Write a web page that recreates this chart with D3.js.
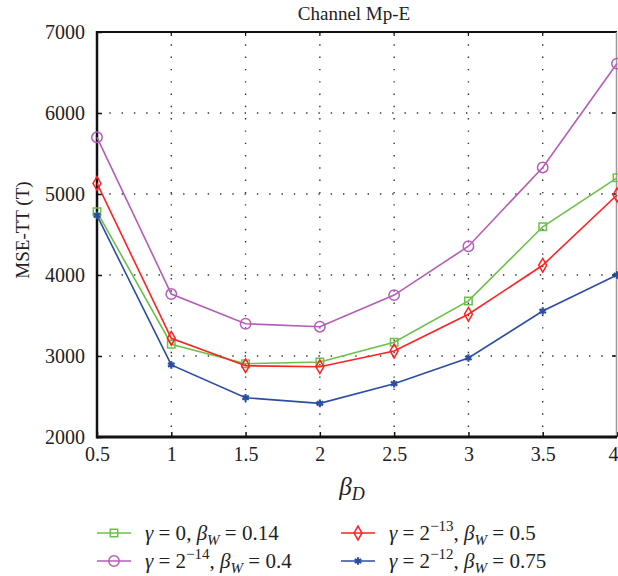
<!DOCTYPE html>
<html>
<head>
<meta charset="utf-8">
<script src="https://cdn.jsdelivr.net/npm/d3@7"></script>
<style>
  body { margin: 0; background: #fff; }
</style>
</head>
<body>
<div id="chart"></div>
<script>
// beta_D values on the x axis
const betaD = [0.5, 1, 1.5, 2, 2.5, 3, 3.5, 4];

// MSE-TT values
const gamma0 = [4780, 3145, 2905, 2925, 3170, 3680, 4595, 5200];
const gamma14 = [5700, 3765, 3398, 3362, 3752, 4355, 5328, 6610];
const gamma13 = [5130, 3218, 2880, 2868, 3062, 3515, 4120, 4988];
const gamma12 = [4735, 2890, 2485, 2415, 2658, 2975, 3555, 4000];

const xTicks = [0.5, 1, 1.5, 2, 2.5, 3, 3.5, 4];
const yTicks = [2000, 3000, 4000, 5000, 6000, 7000];

const FONT = "Liberation Serif, Times New Roman, Times, DejaVu Serif, serif";
const width = 618, height = 576;
const margin = {left: 97, right: 1, top: 32, bottom: 139};

const svg = d3.select("#chart").append("svg")
  .attr("width", width)
  .attr("height", height)
  .attr("font-family", FONT);

let x = d3.scaleLinear().domain([0.5, 4]).range([margin.left, width - margin.right]);
let y = d3.scaleLinear().domain([2000, 7000]).range([height - margin.bottom, margin.top]);

// dotted grid
let grid = svg.append("g").attr("class", "grid");
grid.selectAll(".vg").data(xTicks.slice(1, -1)).enter().append("line")
  .attr("x1", d => x(d)).attr("x2", d => x(d))
  .attr("y1", y(7000)).attr("y2", y(2000))
  .attr("stroke", "#333").attr("stroke-width", 1.4)
  .attr("stroke-dasharray", "1.4 10.9");
grid.selectAll(".hg").data(yTicks.slice(1, -1)).enter().append("line")
  .attr("y1", d => y(d)).attr("y2", d => y(d))
  .attr("x1", x(0.5)).attr("x2", x(4))
  .attr("stroke", "#333").attr("stroke-width", 1.4)
  .attr("stroke-dasharray", "1.4 10.9");

// axes
let xAxis = svg.append("g")
  .attr("transform", `translate(0,${y(2000)})`)
  .call(d3.axisBottom(x).tickValues(xTicks).tickSizeInner(-5).tickSizeOuter(0).tickPadding(10)
    .tickFormat(d3.format("")));
let yAxis = svg.append("g")
  .attr("transform", `translate(${x(0.5)},0)`)
  .call(d3.axisLeft(y).tickValues(yTicks).tickSizeInner(-5).tickSizeOuter(0).tickPadding(12)
    .tickFormat(d3.format("d")));

[xAxis, yAxis].forEach(a => {
  a.attr("font-family", FONT).attr("font-size", 20);
  a.select(".domain").remove();
  a.selectAll("line").attr("stroke", "#111").attr("stroke-width", 1.5);
  a.selectAll("text").attr("fill", "#222");
});
xAxis.selectAll("text").attr("dy", "0.71em");
yAxis.selectAll("text").attr("dy", "0.33em");
// last label is clipped in the original; nudge it inside the page
xAxis.selectAll("text").filter(d => d === 4).attr("text-anchor", "end").attr("dx", 1);

// ticks on the top and right sides
svg.append("g").selectAll("line").data(xTicks.slice(1, -1)).enter().append("line")
  .attr("x1", d => x(d)).attr("x2", d => x(d))
  .attr("y1", y(7000)).attr("y2", y(7000) + 4)
  .attr("stroke", "#111").attr("stroke-width", 1.2);
svg.append("g").selectAll("line").data(yTicks.slice(1, -1)).enter().append("line")
  .attr("x1", x(4) - 5).attr("x2", x(4))
  .attr("y1", d => y(d)).attr("y2", d => y(d))
  .attr("stroke", "#111").attr("stroke-width", 1.5);

// frame
svg.append("line").attr("x1", x(0.5)).attr("x2", x(4)).attr("y1", y(7000)).attr("y2", y(7000))
  .attr("stroke", "#111").attr("stroke-width", 2);
svg.append("line").attr("x1", x(4) - 0.5).attr("x2", x(4) - 0.5).attr("y1", y(7000)).attr("y2", y(2000))
  .attr("stroke", "#999").attr("stroke-width", 1.5);
svg.append("line").attr("x1", x(0.5)).attr("x2", x(0.5)).attr("y1", y(7000) - 1).attr("y2", y(2000) + 1.5)
  .attr("stroke", "#111").attr("stroke-width", 2.5);
svg.append("line").attr("x1", x(0.5)).attr("x2", x(4)).attr("y1", y(2000)).attr("y2", y(2000))
  .attr("stroke", "#111").attr("stroke-width", 3);

// series
const series = [
  {name: "g0", values: gamma0, color: "#6cc04a", symbol: d3.symbolSquare, size: 55},
  {name: "g14", values: gamma14, color: "#b65cb8", symbol: d3.symbolCircle, size: 85},
  {name: "g13", values: gamma13, color: "#ff2222", symbol: d3.symbolDiamond, size: 55},
  {name: "g12", values: gamma12, color: "#2b4ea3", symbol: d3.symbolAsterisk, size: 40}
];

let line = d3.line().x(d => x(d[0])).y(d => y(d[1]));

let drawOrder = [series[1], series[0], series[2], series[3]];
drawOrder.forEach(s => {
  let pts = betaD.map((b, i) => [b, s.values[i]]);
  svg.append("path").datum(pts)
    .attr("d", line)
    .attr("fill", "none")
    .attr("stroke", s.color)
    .attr("stroke-width", 1.6);
  svg.append("g").selectAll("path").data(pts).enter().append("path")
    .attr("transform", d => `translate(${x(d[0])},${y(d[1])})`)
    .attr("d", d3.symbol().type(s.symbol).size(s.size))
    .attr("fill", "none")
    .attr("stroke", s.color)
    .attr("stroke-width", s.symbol === d3.symbolAsterisk ? 2.2 : 1.5);
});

// title and axis labels
svg.append("text").attr("x", 354).attr("y", 20)
  .attr("text-anchor", "middle").attr("font-size", 19).attr("fill", "#222")
  .text("Channel Mp-E");

svg.append("text")
  .attr("transform", "translate(29,230) rotate(-90)")
  .attr("text-anchor", "middle").attr("font-size", 19).attr("fill", "#222")
  .text("MSE-TT (T)");

let xl = svg.append("text").attr("x", 352).attr("y", 495)
  .attr("text-anchor", "middle").attr("font-size", 25).attr("fill", "#222");
xl.append("tspan").attr("font-style", "italic").text("β");
xl.append("tspan").attr("font-style", "italic").attr("font-size", 18).attr("dy", 5).text("D");

// legend
const legendItems = [
  {s: series[0], col: 0, row: 0, g: "0", sup: null, bw: "0.14"},
  {s: series[1], col: 0, row: 1, g: "2", sup: "−14", bw: "0.4"},
  {s: series[2], col: 1, row: 0, g: "2", sup: "−13", bw: "0.5"},
  {s: series[3], col: 1, row: 1, g: "2", sup: "−12", bw: "0.75"}
];
const colX = [97, 341], rowY = [533, 561];

legendItems.forEach(it => {
  let lx = colX[it.col], ly = rowY[it.row];
  let g = svg.append("g");
  g.append("line").attr("x1", lx).attr("x2", lx + 34).attr("y1", ly).attr("y2", ly)
    .attr("stroke", it.s.color).attr("stroke-width", 1.6);
  g.append("path").attr("transform", `translate(${lx + 17},${ly})`)
    .attr("d", d3.symbol().type(it.s.symbol).size(it.s.size))
    .attr("fill", "none").attr("stroke", it.s.color)
    .attr("stroke-width", it.s.symbol === d3.symbolAsterisk ? 2.2 : 1.5);
  let t = g.append("text").attr("x", lx + 48).attr("y", ly + 7)
    .attr("font-size", 21).attr("fill", "#222");
  t.append("tspan").attr("font-style", "italic").text("γ");
  t.append("tspan").text(" = " + it.g);
  if (it.sup) {
    t.append("tspan").attr("font-size", 15).attr("dy", -9).text(it.sup);
    t.append("tspan").attr("dy", 9).text(", ");
  } else {
    t.append("tspan").text(", ");
  }
  t.append("tspan").attr("font-style", "italic").text("β");
  t.append("tspan").attr("font-style", "italic").attr("font-size", 15).attr("dy", 5).text("W");
  t.append("tspan").attr("dy", -5).text(" = " + it.bw);
});
</script>
</body>
</html>
